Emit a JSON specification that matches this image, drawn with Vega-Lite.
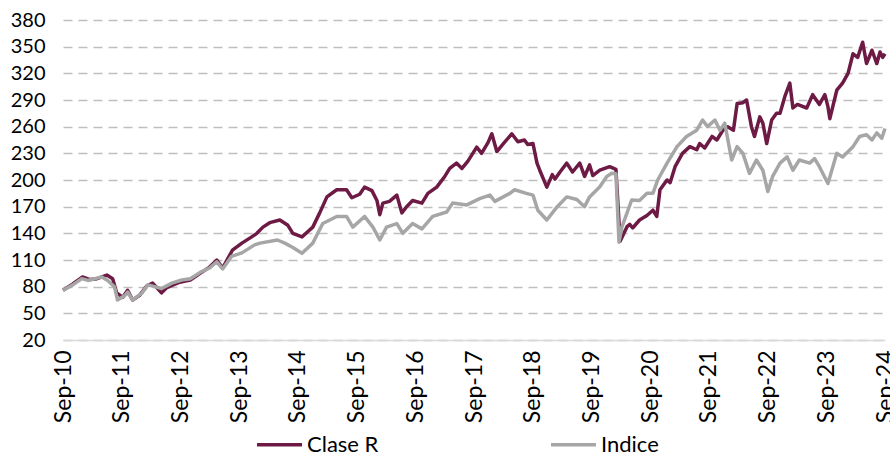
{
  "$schema": "https://vega.github.io/schema/vega-lite/v6.json",
  "width": 822,
  "height": 320,
  "autosize": {"type": "none"},
  "padding": {"left": 63, "top": 20, "right": 5, "bottom": 126},
  "background": "white",
  "config": {"view": {"stroke": null}, "font": "Lato"},
  "data": {"values": [
    {"date": "2010-09-01", "serie": "Clase R", "valor": 76},
    {"date": "2010-11-01", "serie": "Clase R", "valor": 83},
    {"date": "2011-01-01", "serie": "Clase R", "valor": 91},
    {"date": "2011-02-15", "serie": "Clase R", "valor": 88},
    {"date": "2011-04-01", "serie": "Clase R", "valor": 89},
    {"date": "2011-06-01", "serie": "Clase R", "valor": 93},
    {"date": "2011-07-07", "serie": "Clase R", "valor": 89},
    {"date": "2011-08-01", "serie": "Clase R", "valor": 73},
    {"date": "2011-09-08", "serie": "Clase R", "valor": 68},
    {"date": "2011-10-08", "serie": "Clase R", "valor": 76},
    {"date": "2011-11-08", "serie": "Clase R", "valor": 65},
    {"date": "2011-12-20", "serie": "Clase R", "valor": 70},
    {"date": "2012-02-05", "serie": "Clase R", "valor": 81},
    {"date": "2012-03-12", "serie": "Clase R", "valor": 84},
    {"date": "2012-05-06", "serie": "Clase R", "valor": 73},
    {"date": "2012-06-08", "serie": "Clase R", "valor": 79},
    {"date": "2012-08-27", "serie": "Clase R", "valor": 85},
    {"date": "2012-11-01", "serie": "Clase R", "valor": 87.5},
    {"date": "2013-01-01", "serie": "Clase R", "valor": 95},
    {"date": "2013-03-01", "serie": "Clase R", "valor": 102},
    {"date": "2013-04-15", "serie": "Clase R", "valor": 110},
    {"date": "2013-05-21", "serie": "Clase R", "valor": 101},
    {"date": "2013-07-21", "serie": "Clase R", "valor": 121},
    {"date": "2013-09-18", "serie": "Clase R", "valor": 129},
    {"date": "2013-11-18", "serie": "Clase R", "valor": 136},
    {"date": "2013-12-20", "serie": "Clase R", "valor": 140},
    {"date": "2014-01-27", "serie": "Clase R", "valor": 147},
    {"date": "2014-03-10", "serie": "Clase R", "valor": 152},
    {"date": "2014-05-12", "serie": "Clase R", "valor": 155},
    {"date": "2014-07-01", "serie": "Clase R", "valor": 149},
    {"date": "2014-08-01", "serie": "Clase R", "valor": 140},
    {"date": "2014-09-27", "serie": "Clase R", "valor": 136},
    {"date": "2014-10-27", "serie": "Clase R", "valor": 141},
    {"date": "2014-12-03", "serie": "Clase R", "valor": 147},
    {"date": "2015-01-15", "serie": "Clase R", "valor": 163},
    {"date": "2015-03-01", "serie": "Clase R", "valor": 181},
    {"date": "2015-05-01", "serie": "Clase R", "valor": 189},
    {"date": "2015-07-01", "serie": "Clase R", "valor": 189},
    {"date": "2015-08-03", "serie": "Clase R", "valor": 180},
    {"date": "2015-09-21", "serie": "Clase R", "valor": 184},
    {"date": "2015-10-21", "serie": "Clase R", "valor": 192},
    {"date": "2015-12-06", "serie": "Clase R", "valor": 188},
    {"date": "2016-01-06", "serie": "Clase R", "valor": 177},
    {"date": "2016-01-24", "serie": "Clase R", "valor": 161},
    {"date": "2016-02-12", "serie": "Clase R", "valor": 174},
    {"date": "2016-03-24", "serie": "Clase R", "valor": 176},
    {"date": "2016-05-09", "serie": "Clase R", "valor": 183},
    {"date": "2016-06-09", "serie": "Clase R", "valor": 163},
    {"date": "2016-07-09", "serie": "Clase R", "valor": 170},
    {"date": "2016-08-15", "serie": "Clase R", "valor": 177},
    {"date": "2016-10-12", "serie": "Clase R", "valor": 174},
    {"date": "2016-11-18", "serie": "Clase R", "valor": 185},
    {"date": "2017-01-12", "serie": "Clase R", "valor": 192},
    {"date": "2017-03-03", "serie": "Clase R", "valor": 204},
    {"date": "2017-04-03", "serie": "Clase R", "valor": 213},
    {"date": "2017-05-15", "serie": "Clase R", "valor": 219},
    {"date": "2017-06-18", "serie": "Clase R", "valor": 213},
    {"date": "2017-07-24", "serie": "Clase R", "valor": 221},
    {"date": "2017-09-18", "serie": "Clase R", "valor": 237},
    {"date": "2017-10-18", "serie": "Clase R", "valor": 230},
    {"date": "2017-11-27", "serie": "Clase R", "valor": 242},
    {"date": "2017-12-21", "serie": "Clase R", "valor": 252},
    {"date": "2018-01-21", "serie": "Clase R", "valor": 232},
    {"date": "2018-02-27", "serie": "Clase R", "valor": 240},
    {"date": "2018-04-24", "serie": "Clase R", "valor": 252},
    {"date": "2018-06-01", "serie": "Clase R", "valor": 243},
    {"date": "2018-07-12", "serie": "Clase R", "valor": 245},
    {"date": "2018-08-01", "serie": "Clase R", "valor": 240},
    {"date": "2018-09-03", "serie": "Clase R", "valor": 241},
    {"date": "2018-09-28", "serie": "Clase R", "valor": 219},
    {"date": "2018-10-15", "serie": "Clase R", "valor": 211},
    {"date": "2018-11-28", "serie": "Clase R", "valor": 192},
    {"date": "2019-01-01", "serie": "Clase R", "valor": 206},
    {"date": "2019-01-18", "serie": "Clase R", "valor": 201},
    {"date": "2019-02-18", "serie": "Clase R", "valor": 209},
    {"date": "2019-04-01", "serie": "Clase R", "valor": 219},
    {"date": "2019-05-07", "serie": "Clase R", "valor": 209},
    {"date": "2019-06-21", "serie": "Clase R", "valor": 219},
    {"date": "2019-07-21", "serie": "Clase R", "valor": 204},
    {"date": "2019-08-21", "serie": "Clase R", "valor": 217},
    {"date": "2019-09-10", "serie": "Clase R", "valor": 205},
    {"date": "2019-10-24", "serie": "Clase R", "valor": 211},
    {"date": "2019-12-24", "serie": "Clase R", "valor": 215},
    {"date": "2020-02-01", "serie": "Clase R", "valor": 212},
    {"date": "2020-02-27", "serie": "Clase R", "valor": 131},
    {"date": "2020-04-10", "serie": "Clase R", "valor": 147.5},
    {"date": "2020-04-27", "serie": "Clase R", "valor": 150},
    {"date": "2020-05-15", "serie": "Clase R", "valor": 146},
    {"date": "2020-06-27", "serie": "Clase R", "valor": 155},
    {"date": "2020-08-12", "serie": "Clase R", "valor": 160},
    {"date": "2020-09-18", "serie": "Clase R", "valor": 166},
    {"date": "2020-10-12", "serie": "Clase R", "valor": 159},
    {"date": "2020-11-01", "serie": "Clase R", "valor": 189},
    {"date": "2020-12-15", "serie": "Clase R", "valor": 200},
    {"date": "2021-01-03", "serie": "Clase R", "valor": 197},
    {"date": "2021-02-03", "serie": "Clase R", "valor": 215},
    {"date": "2021-03-21", "serie": "Clase R", "valor": 230},
    {"date": "2021-05-06", "serie": "Clase R", "valor": 237.5},
    {"date": "2021-06-18", "serie": "Clase R", "valor": 234},
    {"date": "2021-07-06", "serie": "Clase R", "valor": 241},
    {"date": "2021-08-06", "serie": "Clase R", "valor": 236},
    {"date": "2021-09-21", "serie": "Clase R", "valor": 249},
    {"date": "2021-10-21", "serie": "Clase R", "valor": 245},
    {"date": "2021-11-27", "serie": "Clase R", "valor": 256},
    {"date": "2021-12-27", "serie": "Clase R", "valor": 260},
    {"date": "2022-02-01", "serie": "Clase R", "valor": 256},
    {"date": "2022-02-24", "serie": "Clase R", "valor": 286},
    {"date": "2022-04-01", "serie": "Clase R", "valor": 287},
    {"date": "2022-04-24", "serie": "Clase R", "valor": 290},
    {"date": "2022-05-24", "serie": "Clase R", "valor": 260},
    {"date": "2022-06-12", "serie": "Clase R", "valor": 249},
    {"date": "2022-07-15", "serie": "Clase R", "valor": 271},
    {"date": "2022-08-03", "serie": "Clase R", "valor": 264},
    {"date": "2022-08-27", "serie": "Clase R", "valor": 241},
    {"date": "2022-09-27", "serie": "Clase R", "valor": 267.5},
    {"date": "2022-10-27", "serie": "Clase R", "valor": 275},
    {"date": "2022-11-18", "serie": "Clase R", "valor": 275},
    {"date": "2022-12-18", "serie": "Clase R", "valor": 294},
    {"date": "2023-01-18", "serie": "Clase R", "valor": 309},
    {"date": "2023-02-06", "serie": "Clase R", "valor": 281},
    {"date": "2023-03-06", "serie": "Clase R", "valor": 285},
    {"date": "2023-05-03", "serie": "Clase R", "valor": 281},
    {"date": "2023-06-09", "serie": "Clase R", "valor": 296},
    {"date": "2023-07-21", "serie": "Clase R", "valor": 285},
    {"date": "2023-08-24", "serie": "Clase R", "valor": 296},
    {"date": "2023-09-12", "serie": "Clase R", "valor": 282.5},
    {"date": "2023-09-24", "serie": "Clase R", "valor": 269},
    {"date": "2023-11-06", "serie": "Clase R", "valor": 301},
    {"date": "2023-12-12", "serie": "Clase R", "valor": 309},
    {"date": "2024-01-15", "serie": "Clase R", "valor": 320},
    {"date": "2024-02-15", "serie": "Clase R", "valor": 342},
    {"date": "2024-03-15", "serie": "Clase R", "valor": 338},
    {"date": "2024-04-15", "serie": "Clase R", "valor": 355},
    {"date": "2024-05-09", "serie": "Clase R", "valor": 331},
    {"date": "2024-06-12", "serie": "Clase R", "valor": 346},
    {"date": "2024-07-12", "serie": "Clase R", "valor": 331},
    {"date": "2024-08-01", "serie": "Clase R", "valor": 344},
    {"date": "2024-08-18", "serie": "Clase R", "valor": 338},
    {"date": "2024-09-01", "serie": "Clase R", "valor": 342},
    {"date": "2010-09-01", "serie": "Indice", "valor": 76},
    {"date": "2010-11-01", "serie": "Indice", "valor": 82},
    {"date": "2010-12-27", "serie": "Indice", "valor": 89},
    {"date": "2011-02-03", "serie": "Indice", "valor": 87},
    {"date": "2011-05-01", "serie": "Indice", "valor": 91},
    {"date": "2011-06-06", "serie": "Indice", "valor": 87},
    {"date": "2011-07-18", "serie": "Indice", "valor": 80},
    {"date": "2011-08-06", "serie": "Indice", "valor": 65},
    {"date": "2011-09-21", "serie": "Indice", "valor": 70},
    {"date": "2011-10-08", "serie": "Indice", "valor": 74},
    {"date": "2011-11-08", "serie": "Indice", "valor": 65},
    {"date": "2012-01-03", "serie": "Indice", "valor": 72.5},
    {"date": "2012-02-12", "serie": "Indice", "valor": 82},
    {"date": "2012-03-24", "serie": "Indice", "valor": 80},
    {"date": "2012-05-06", "serie": "Indice", "valor": 78},
    {"date": "2012-07-09", "serie": "Indice", "valor": 84},
    {"date": "2012-09-09", "serie": "Indice", "valor": 87.5},
    {"date": "2012-11-01", "serie": "Indice", "valor": 89},
    {"date": "2013-01-01", "serie": "Indice", "valor": 96},
    {"date": "2013-03-01", "serie": "Indice", "valor": 101},
    {"date": "2013-04-15", "serie": "Indice", "valor": 108},
    {"date": "2013-05-21", "serie": "Indice", "valor": 100},
    {"date": "2013-07-15", "serie": "Indice", "valor": 114},
    {"date": "2013-09-18", "serie": "Indice", "valor": 118},
    {"date": "2013-12-06", "serie": "Indice", "valor": 127},
    {"date": "2014-01-09", "serie": "Indice", "valor": 129},
    {"date": "2014-04-27", "serie": "Indice", "valor": 132.5},
    {"date": "2014-06-12", "serie": "Indice", "valor": 129},
    {"date": "2014-08-01", "serie": "Indice", "valor": 124},
    {"date": "2014-09-27", "serie": "Indice", "valor": 117.5},
    {"date": "2014-12-03", "serie": "Indice", "valor": 129},
    {"date": "2015-02-03", "serie": "Indice", "valor": 151},
    {"date": "2015-05-01", "serie": "Indice", "valor": 159},
    {"date": "2015-07-01", "serie": "Indice", "valor": 159},
    {"date": "2015-08-09", "serie": "Indice", "valor": 147},
    {"date": "2015-10-21", "serie": "Indice", "valor": 159},
    {"date": "2015-12-12", "serie": "Indice", "valor": 147},
    {"date": "2016-01-24", "serie": "Indice", "valor": 132.5},
    {"date": "2016-03-06", "serie": "Indice", "valor": 147},
    {"date": "2016-05-09", "serie": "Indice", "valor": 151},
    {"date": "2016-06-15", "serie": "Indice", "valor": 140},
    {"date": "2016-08-15", "serie": "Indice", "valor": 151},
    {"date": "2016-10-12", "serie": "Indice", "valor": 145},
    {"date": "2016-12-18", "serie": "Indice", "valor": 159},
    {"date": "2017-03-15", "serie": "Indice", "valor": 164},
    {"date": "2017-04-21", "serie": "Indice", "valor": 174},
    {"date": "2017-07-18", "serie": "Indice", "valor": 172},
    {"date": "2017-10-06", "serie": "Indice", "valor": 179},
    {"date": "2017-12-09", "serie": "Indice", "valor": 183},
    {"date": "2018-01-09", "serie": "Indice", "valor": 176},
    {"date": "2018-04-12", "serie": "Indice", "valor": 185},
    {"date": "2018-05-12", "serie": "Indice", "valor": 189},
    {"date": "2018-07-24", "serie": "Indice", "valor": 185},
    {"date": "2018-09-03", "serie": "Indice", "valor": 183},
    {"date": "2018-10-03", "serie": "Indice", "valor": 166},
    {"date": "2018-11-28", "serie": "Indice", "valor": 155},
    {"date": "2019-02-01", "serie": "Indice", "valor": 170},
    {"date": "2019-04-01", "serie": "Indice", "valor": 181},
    {"date": "2019-06-03", "serie": "Indice", "valor": 178},
    {"date": "2019-07-21", "serie": "Indice", "valor": 170},
    {"date": "2019-08-21", "serie": "Indice", "valor": 181},
    {"date": "2019-10-24", "serie": "Indice", "valor": 192.5},
    {"date": "2019-12-06", "serie": "Indice", "valor": 204},
    {"date": "2020-01-06", "serie": "Indice", "valor": 207.5},
    {"date": "2020-02-01", "serie": "Indice", "valor": 207},
    {"date": "2020-02-20", "serie": "Indice", "valor": 130},
    {"date": "2020-03-09", "serie": "Indice", "valor": 147},
    {"date": "2020-04-10", "serie": "Indice", "valor": 163},
    {"date": "2020-05-09", "serie": "Indice", "valor": 177.5},
    {"date": "2020-06-27", "serie": "Indice", "valor": 177},
    {"date": "2020-08-12", "serie": "Indice", "valor": 185},
    {"date": "2020-09-18", "serie": "Indice", "valor": 185},
    {"date": "2020-10-18", "serie": "Indice", "valor": 200},
    {"date": "2020-12-15", "serie": "Indice", "valor": 219},
    {"date": "2021-02-15", "serie": "Indice", "valor": 237.5},
    {"date": "2021-04-15", "serie": "Indice", "valor": 249},
    {"date": "2021-06-18", "serie": "Indice", "valor": 256},
    {"date": "2021-07-24", "serie": "Indice", "valor": 267.5},
    {"date": "2021-08-24", "serie": "Indice", "valor": 260},
    {"date": "2021-10-09", "serie": "Indice", "valor": 267.5},
    {"date": "2021-11-09", "serie": "Indice", "valor": 256},
    {"date": "2021-12-09", "serie": "Indice", "valor": 264},
    {"date": "2022-01-21", "serie": "Indice", "valor": 222.5},
    {"date": "2022-02-24", "serie": "Indice", "valor": 237.5},
    {"date": "2022-04-01", "serie": "Indice", "valor": 230},
    {"date": "2022-05-12", "serie": "Indice", "valor": 207.5},
    {"date": "2022-06-24", "serie": "Indice", "valor": 222.5},
    {"date": "2022-08-03", "serie": "Indice", "valor": 211},
    {"date": "2022-09-03", "serie": "Indice", "valor": 187},
    {"date": "2022-10-03", "serie": "Indice", "valor": 204},
    {"date": "2022-11-18", "serie": "Indice", "valor": 219},
    {"date": "2023-01-01", "serie": "Indice", "valor": 226},
    {"date": "2023-02-06", "serie": "Indice", "valor": 211},
    {"date": "2023-03-18", "serie": "Indice", "valor": 222.5},
    {"date": "2023-05-21", "serie": "Indice", "valor": 219},
    {"date": "2023-06-21", "serie": "Indice", "valor": 224},
    {"date": "2023-07-21", "serie": "Indice", "valor": 215},
    {"date": "2023-09-12", "serie": "Indice", "valor": 196},
    {"date": "2023-11-06", "serie": "Indice", "valor": 230},
    {"date": "2023-12-12", "serie": "Indice", "valor": 226},
    {"date": "2024-02-15", "serie": "Indice", "valor": 237.5},
    {"date": "2024-03-27", "serie": "Indice", "valor": 249},
    {"date": "2024-05-09", "serie": "Indice", "valor": 251},
    {"date": "2024-06-12", "serie": "Indice", "valor": 245},
    {"date": "2024-07-12", "serie": "Indice", "valor": 253},
    {"date": "2024-08-12", "serie": "Indice", "valor": 247},
    {"date": "2024-09-01", "serie": "Indice", "valor": 258}
  ]},
  "mark": {"type": "line", "strokeWidth": 3.5, "strokeJoin": "round"},
  "encoding": {
    "x": {
      "field": "date", "type": "temporal",
      "scale": {"type": "utc", "domain": [{"year": 2010, "month": 9, "date": 1, "utc": true}, {"year": 2024, "month": 9, "date": 1, "utc": true}], "nice": false},
      "axis": {
        "title": null,
        "values": [
          {"year": 2010, "month": 9, "date": 1, "utc": true},
          {"year": 2011, "month": 9, "date": 1, "utc": true},
          {"year": 2012, "month": 9, "date": 1, "utc": true},
          {"year": 2013, "month": 9, "date": 1, "utc": true},
          {"year": 2014, "month": 9, "date": 1, "utc": true},
          {"year": 2015, "month": 9, "date": 1, "utc": true},
          {"year": 2016, "month": 9, "date": 1, "utc": true},
          {"year": 2017, "month": 9, "date": 1, "utc": true},
          {"year": 2018, "month": 9, "date": 1, "utc": true},
          {"year": 2019, "month": 9, "date": 1, "utc": true},
          {"year": 2020, "month": 9, "date": 1, "utc": true},
          {"year": 2021, "month": 9, "date": 1, "utc": true},
          {"year": 2022, "month": 9, "date": 1, "utc": true},
          {"year": 2023, "month": 9, "date": 1, "utc": true},
          {"year": 2024, "month": 9, "date": 1, "utc": true}
        ],
        "labelExpr": "utcFormat(datum.value, '%b-%y')",
        "labelAngle": -90, "labelFontSize": 23, "labelColor": "#000000", "labelFont": "Lato",
        "labelPadding": 10, "labelOverlap": false, "labelBound": false, "labelFlush": false,
        "ticks": false, "grid": false,
        "domainColor": "#d9d9d9", "domainWidth": 1.5
      }
    },
    "y": {
      "field": "valor", "type": "quantitative",
      "scale": {"domain": [20, 380], "nice": false, "zero": false},
      "axis": {
        "title": null,
        "values": [20, 50, 80, 110, 140, 170, 200, 230, 260, 290, 320, 350, 380],
        "labelFontSize": 20, "labelColor": "#000000", "labelFont": "Lato",
        "labelPadding": 18, "ticks": false, "domain": false,
        "grid": true, "gridColor": "#bfbfbf", "gridDash": [9, 6], "gridWidth": 1.5
      }
    },
    "color": {
      "field": "serie", "type": "nominal",
      "scale": {"domain": ["Clase R", "Indice"], "range": ["#6d1b45", "#a6a6a6"]},
      "legend": {
        "title": null, "orient": "none", "legendX": 192, "legendY": 400,
        "direction": "horizontal", "symbolType": "stroke", "symbolSize": 2025,
        "symbolStrokeWidth": 3.5, "labelFontSize": 22, "labelFont": "Lato", "labelColor": "#000000",
        "columnPadding": 165, "labelOffset": 3
      }
    }
  }
}
